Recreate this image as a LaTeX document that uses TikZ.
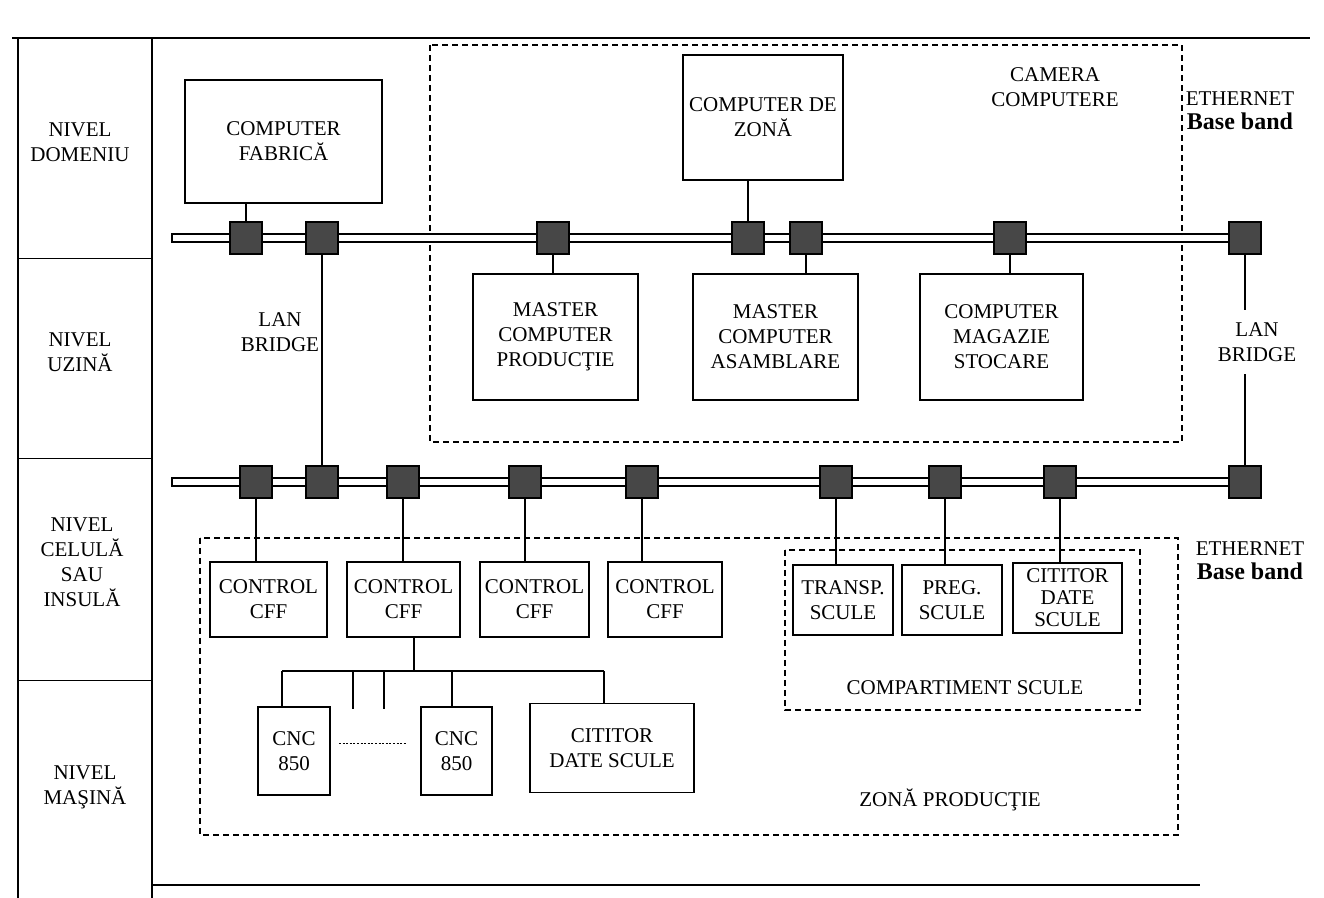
\documentclass[tikz,border=0pt]{standalone}
\usepackage{fontspec}
\setmainfont{Liberation Serif}
\begin{document}
\begin{tikzpicture}[x=0.5pt,y=-0.5pt,
  txt/.style={align=center, inner sep=0pt, font=\fontsize{10.5}{12.5}\selectfont},
  box/.style={txt, draw, line width=0.9pt},
  sq/.style={draw, fill=black!72, minimum size=16pt, inner sep=0pt, line width=0.6pt},
  zone/.style={draw, dash pattern=on 3pt off 2pt, line width=1pt},
  wire/.style={line width=0.7pt},
  frame/.style={line width=1pt},
  sep/.style={line width=0.4pt},
  eth/.style={align=center, inner sep=0pt, font=\fontsize{10.5}{12}\selectfont}]
\useasboundingbox (0,0) rectangle (1324,898);

% frame
\draw[frame] (12,38) -- (1310,38);
\draw[frame] (18,38) -- (18,898);
\draw[frame] (152,38) -- (152,898);
\draw[frame] (152,885) -- (1200,885);
\draw[sep] (18,258) -- (152,258);
\draw[sep] (18,458) -- (152,458);
\draw[sep] (18,680) -- (152,680);

% level labels
\node[txt] (l1) at (80,142) {NIVEL\\DOMENIU};
\node[txt] (l2) at (80,352) {NIVEL\\UZINĂ};
\node[txt] (l3) at (82,562) {NIVEL\\CELULĂ\\SAU\\INSULĂ};
\node[txt] (l4) at (85,787) {NIVEL\\MAŞINĂ};

% zones
\draw[zone] (430,45) rectangle (1182,442);
\draw[zone] (200,538) rectangle (1178,835);
\draw[zone] (785,550) rectangle (1140,710);
\node[txt] (cam) at (1055,87) {CAMERA\\COMPUTERE};
\node[txt] (comp) at (965,688) {COMPARTIMENT SCULE};
\node[txt] (zp) at (950,800) {ZONĂ PRODUCŢIE};

% buses
\draw[line width=0.8pt, fill=white] (172,234) rectangle (1245,242);
\draw[line width=0.8pt, fill=white] (172,478) rectangle (1245,486);

% upper boxes
\node[box, minimum width=98.5pt, minimum height=61.5pt] (fab) at (283.5,141.5) {COMPUTER\\FABRICĂ};
\node[box, minimum width=80pt, minimum height=62.5pt] (zona) at (763,117.5) {COMPUTER DE\\ZONĂ};
\node[box, minimum width=82.5pt, minimum height=63pt] (mprod) at (555.5,337) {MASTER\\COMPUTER\\PRODUCŢIE};
\node[box, minimum width=82.5pt, minimum height=63pt] (masm) at (775.5,337) {MASTER\\COMPUTER\\ASAMBLARE};
\node[box, minimum width=81.5pt, minimum height=63pt] (mag) at (1001.5,337) {COMPUTER\\MAGAZIE\\STOCARE};

% upper squares
\node[sq] (u1) at (246,238) {};
\node[sq] (u2) at (322,238) {};
\node[sq] (u3) at (553,238) {};
\node[sq] (u4) at (748,238) {};
\node[sq] (u5) at (806,238) {};
\node[sq] (u6) at (1010,238) {};
\node[sq] (u7) at (1245,238) {};

% lower squares
\node[sq] (d1) at (256,482) {};
\node[sq] (d2) at (322,482) {};
\node[sq] (d3) at (403,482) {};
\node[sq] (d4) at (525,482) {};
\node[sq] (d5) at (642,482) {};
\node[sq] (d6) at (836,482) {};
\node[sq] (d7) at (945,482) {};
\node[sq] (d8) at (1060,482) {};
\node[sq] (d9) at (1245,482) {};

% upper connections
\draw[wire] (u1.north) -- (u1.north |- fab.south);
\draw[wire] (u4.north) -- (u4.north |- zona.south);
\draw[wire] (u3.south) -- (u3.south |- mprod.north);
\draw[wire] (u5.south) -- (u5.south |- masm.north);
\draw[wire] (u6.south) -- (u6.south |- mag.north);
\draw[wire] (u2.south) -- (d2.north);
\draw[wire] (u7.south) -- (d9.north);

\node[txt] (lb1) at (280,332) {LAN\\BRIDGE};
\node[txt, fill=white, inner xsep=1pt, inner ysep=6pt] (lb2) at (1257,342) {LAN\\BRIDGE};
\node[eth] (e1) at (1240,111) {ETHERNET\\\fontsize{12}{13}\selectfont\bfseries Base band};
\node[eth] (e2) at (1250,561) {ETHERNET\\\fontsize{12}{13}\selectfont\bfseries Base band};

% control boxes
\node[box, minimum width=58.5pt, minimum height=37.5pt] (c1) at (268.5,599.5) {CONTROL\\CFF};
\node[box, minimum width=56.5pt, minimum height=37.5pt] (c2) at (403.5,599.5) {CONTROL\\CFF};
\node[box, minimum width=54.5pt, minimum height=37.5pt] (c3) at (534.5,599.5) {CONTROL\\CFF};
\node[box, minimum width=57pt, minimum height=37.5pt] (c4) at (665,599.5) {CONTROL\\CFF};
\draw[wire] (d1.south) -- (d1.south |- c1.north);
\draw[wire] (d3.south) -- (d3.south |- c2.north);
\draw[wire] (d4.south) -- (d4.south |- c3.north);
\draw[wire] (d5.south) -- (d5.south |- c4.north);

% tool compartment boxes
\node[box, minimum width=50pt, minimum height=35pt] (t1) at (843,600) {TRANSP.\\SCULE};
\node[box, minimum width=50pt, minimum height=35pt] (t2) at (952,600) {PREG.\\SCULE};
\node[box, minimum width=54.5pt, minimum height=35pt, font=\fontsize{10.5}{11}\selectfont] (t3) at (1067.5,598) {CITITOR\\DATE\\SCULE};
\draw[wire] (d6.south) -- (d6.south |- t1.north);
\draw[wire] (d7.south) -- (d7.south |- t2.north);
\draw[wire] (d8.south) -- (d8.south |- t3.north);

% machine level
\node[box, minimum width=36pt, minimum height=44pt] (cnc1) at (294,751) {CNC\\850};
\node[box, minimum width=35.5pt, minimum height=44pt] (cnc2) at (456.5,751) {CNC\\850};
\node[box, minimum width=82pt, minimum height=44.5pt] (cit) at (612,748) {CITITOR\\DATE SCULE};

\coordinate (tj) at (414,671);
\coordinate (tl) at (282,671);
\coordinate (tr) at (604,671);
\coordinate (s1) at (353,671);
\coordinate (s2) at (384,671);
\coordinate (s3) at (452,671);
\draw[wire] (c2.south -| tj) -- (tj);
\draw[wire] (tl) -- (tr);
\draw[wire] (tl) -- (tl |- cnc1.north);
\draw[wire] (s1) -- ++(0,38);
\draw[wire] (s2) -- ++(0,38);
\draw[wire] (s3) -- (s3 |- cnc2.north);
\draw[wire] (tr) -- (tr |- cit.north);
\draw[line width=0.5pt, dash pattern=on 1pt off 0.8pt] (cnc1.east |- 0,744) ++(8,0) -- ([xshift=-7pt]cnc2.west |- 0,744);
\end{tikzpicture}
\end{document}
